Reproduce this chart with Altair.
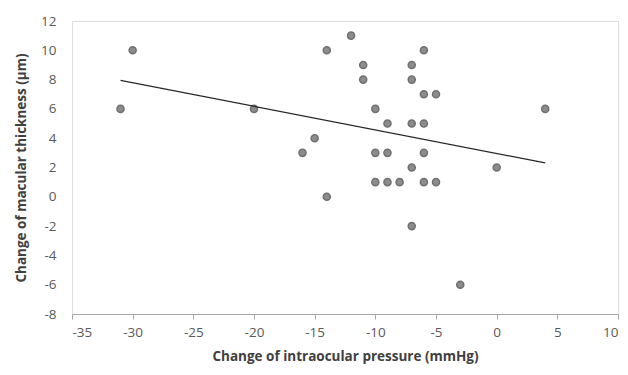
import altair as alt
import pandas as pd

iop_change = [-31, -30, -20, -16, -15, -14, -14, -12, -11, -11, -10, -10, -10,
              -9, -9, -9, -8, -7, -7, -7, -7, -7, -6, -6, -6, -6, -6, -5, -5,
              -3, 0, 4]
macular_change = [6, 10, 6, 3, 4, 10, 0, 11, 9, 8, 6, 3, 1,
                  5, 3, 1, 1, 9, 8, 5, 2, -2, 10, 7, 5, 3, 1, 7, 1,
                  -6, 2, 6]
x_ticks = [-35, -30, -25, -20, -15, -10, -5, 0, 5, 10]
y_ticks = [-8, -6, -4, -2, 0, 2, 4, 6, 8, 10, 12]

df = pd.DataFrame({"x": iop_change, "y": macular_change})

FONT = "Open Sans"

xscale = alt.Scale(domain=[-35, 10], nice=False, zero=False)
yscale = alt.Scale(domain=[-8, 12], nice=False, zero=False)

xaxis = alt.Axis(values=x_ticks, title="Change of intraocular pressure (mmHg)",
                 labelExpr="'' + datum.value", labelOverlap=False,
                 grid=False, domain=True, domainColor="#a6a6a6", ticks=True, tickColor="#a6a6a6",
                 tickSize=5, labelFont=FONT, labelFontSize=13.5, labelColor="#595959", labelPadding=6,
                 titleFont=FONT, titleFontSize=13.5, titleFontWeight="bold", titleColor="#404040",
                 titlePadding=11)
yaxis = alt.Axis(values=y_ticks, title="Change of macular thickness (µm)",
                 labelExpr="'' + datum.value", labelOverlap=False,
                 grid=False, domain=False, ticks=False, labelFont=FONT, labelFontSize=13.5,
                 labelColor="#595959", labelPadding=16,
                 titleFont=FONT, titleFontSize=13.5, titleFontWeight="bold", titleColor="#404040",
                 titlePadding=12)

points = alt.Chart(df).mark_point(filled=True, size=50, fill="#8c8c8c", stroke="#707070",
                                   strokeWidth=1.5, opacity=1).encode(
    x=alt.X("x:Q", scale=xscale, axis=xaxis),
    y=alt.Y("y:Q", scale=yscale, axis=yaxis),
)

trend = alt.Chart(df).transform_regression("x", "y").mark_line(
    color="#262626", strokeWidth=1.2).encode(
    x=alt.X("x:Q", scale=xscale, axis=xaxis),
    y=alt.Y("y:Q", scale=yscale, axis=yaxis),
)

chart = alt.layer(points, trend).properties(
    width=546, height=293,
    autosize=alt.AutoSizeParams(type="none"),
    padding={"left": 64, "top": 13, "right": 2, "bottom": 50},
).configure_view(stroke=None).configure(background="white")

chart.save("out.html", embed_options={"renderer": "svg", "actions": False})
